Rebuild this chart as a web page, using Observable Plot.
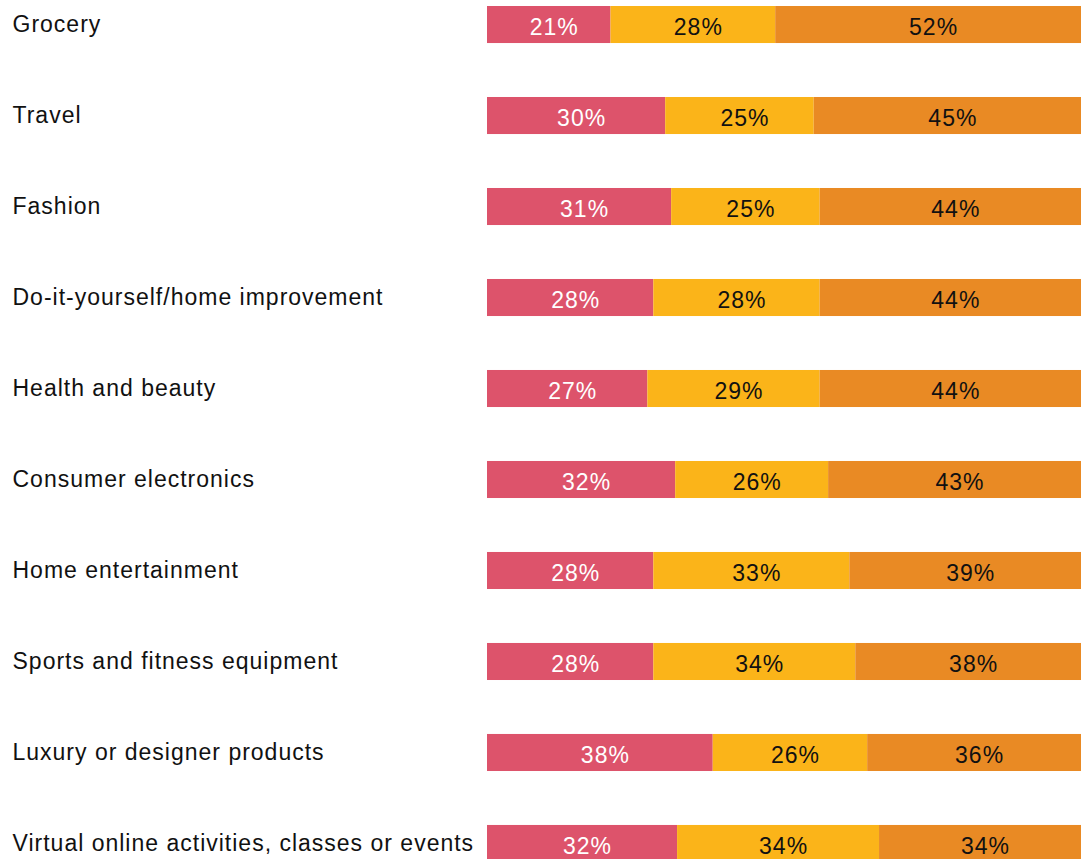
<!DOCTYPE html>
<html>
<head>
<meta charset="utf-8">
<script src="https://cdn.jsdelivr.net/npm/d3@7"></script>
<script src="https://cdn.jsdelivr.net/npm/@observablehq/plot@0.6"></script>
<style>
  html, body { margin: 0; padding: 0; background: #fff; }
  #chart svg { overflow: visible; }
</style>
</head>
<body>
<div id="chart"></div>
<script>
const categories = [
  "Grocery",
  "Travel",
  "Fashion",
  "Do-it-yourself/home improvement",
  "Health and beauty",
  "Consumer electronics",
  "Home entertainment",
  "Sports and fitness equipment",
  "Luxury or designer products",
  "Virtual online activities, classes or events"
];
const seriesNames = ["A", "B", "C"];
const seriesA = [21, 30, 31, 28, 27, 32, 28, 28, 38, 32];
const seriesB = [28, 25, 25, 28, 29, 26, 33, 34, 26, 34];
const seriesC = [52, 45, 44, 44, 44, 43, 39, 38, 36, 34];
const seriesColors = ["#dd536b", "#fbb419", "#e98a24"];
const labelColors = ["#ffffff", "#111111", "#111111"];

const allSeries = [seriesA, seriesB, seriesC];
const data = [];
categories.forEach((cat, i) => {
  allSeries.forEach((s, k) => {
    data.push({category: cat, series: seriesNames[k], value: s[i], k});
  });
});

const font = "'Liberation Sans', Arial, Helvetica, sans-serif";

const chart = Plot.plot({
  width: 1084,
  height: 859,
  marginLeft: 12,
  marginRight: 3,
  marginTop: 0,
  marginBottom: 0,
  style: {fontFamily: font, background: "#fff", letterSpacing: "1px"},
  x: {axis: null, range: [487, 1081], domain: [0, 1]},
  y: {axis: null, domain: categories, range: [6, 862], paddingInner: 0.593, paddingOuter: 0, round: false},
  color: {domain: seriesNames, range: seriesColors},
  marks: [
    Plot.barX(data, {
      x: "value",
      y: "category",
      fill: "series",
      offset: "normalize",
      order: seriesNames
    }),
    Plot.text(data, Plot.stackX({
      x: "value",
      y: "category",
      z: "series",
      offset: "normalize",
      order: seriesNames,
      text: d => d.value + "%",
      fill: d => labelColors[d.k],
      fontSize: 23,
      dx: 5,
      dy: 2.5
    })),
    Plot.text(categories, {
      y: d => d,
      text: d => d,
      frameAnchor: "left",
      textAnchor: "start",
      fontSize: 23,
      fill: "#111",
      dy: -0.5
    })
  ]
});
document.getElementById("chart").appendChild(chart);
</script>
</body>
</html>
